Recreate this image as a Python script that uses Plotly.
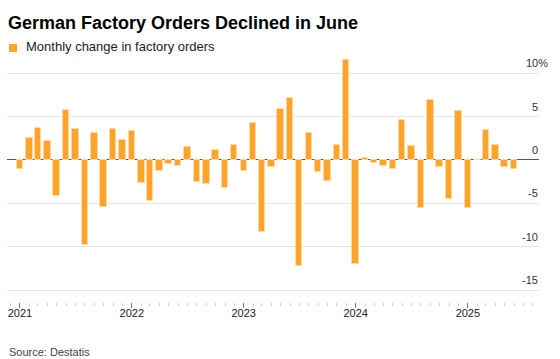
import pandas as pd
import plotly.graph_objects as go

TITLE = "German Factory Orders Declined in June"
SERIES_NAME = "Monthly change in factory orders"
SOURCE = "Source: Destatis"

MONTHS = pd.date_range("2021-01-01", "2025-06-01", freq="MS")
VALUES = [
    -1.0, 2.5, 3.7, 2.2, -4.1, 5.8, 3.55, -9.76, 3.16, -5.36, 3.55, 2.3,
    3.36, -2.6, -4.7, -1.3, -0.46, -0.7, 1.54, -2.55, -2.8, 1.16, -3.28, 1.74,
    -1.23, 4.3, -8.3, -0.85, 5.86, 7.1, -12.2, 3.16, -1.43, -2.47, 1.74, 11.57,
    -12.0, 0.23, -0.39, -0.73, -1.0, 4.55, 1.58, -5.48, 6.94, -0.85, -4.44, 5.67,
    -5.52, 0.0, 3.43, 1.7, -0.81, -1.04,
]
Y_TICKS = [-15, -10, -5, 0, 5, 10]
Y_LABELS = ["-15", "-10", "-5", "0", "5", "10%"]

BAR_COLOR = "#FFA32A"
BAR_EDGE = "#FFD8A0"
FONT = "Liberation Sans, Arial, sans-serif"

W, H = 560, 359
L, R, T, B = 7, 21, 52, 57
PW, PH = W - L - R, H - T - B

fig = go.Figure()
fig.add_trace(go.Bar(
    x=MONTHS, y=VALUES, name=SERIES_NAME,
    width=21 * 24 * 3600 * 1000,
    marker=dict(color=BAR_COLOR, line=dict(color=BAR_EDGE, width=1)),
    showlegend=False,
))

def px_x(p):
    return (p - L) / PW

def px_y(p):
    return (H - B - p) / PH

annotations = []
for v, lab in zip(Y_TICKS, Y_LABELS):
    annotations.append(dict(
        text=lab, x=1, xref="paper", y=v, yref="y", xanchor="right", yanchor="bottom",
        xshift=10 if lab.endswith("%") else 0,
        yshift=3, showarrow=False, font=dict(family=FONT, size=11, color="#333333"),
        borderpad=0,
    ))
annotations.append(dict(
    text=SERIES_NAME, x=px_x(25), xref="paper", y=px_y(47), yref="paper",
    xanchor="left", yanchor="middle", showarrow=False, borderpad=0,
    font=dict(family=FONT, size=13, color="#222222"),
))
annotations.append(dict(
    text=SOURCE, x=px_x(8), xref="paper", y=px_y(352), yref="paper",
    xanchor="left", yanchor="middle", showarrow=False, borderpad=0,
    font=dict(family=FONT, size=11, color="#444444"),
))

fig.update_layout(
    width=W, height=H,
    margin=dict(l=L, r=R, t=T, b=B, pad=0),
    paper_bgcolor="white", plot_bgcolor="white",
    font=dict(family=FONT, size=11, color="#333333"),
    title=dict(
        text="<b>" + TITLE + "</b>", x=8 / W, xref="container", xanchor="left",
        y=1 - 23 / H, yref="container", yanchor="middle",
        font=dict(family=FONT, size=18, color="#000000"),
    ),
    bargap=0,
    showlegend=False,
    shapes=[dict(
        type="rect", xref="paper", yref="paper",
        x0=px_x(9), x1=px_x(17), y0=px_y(52), y1=px_y(44),
        fillcolor=BAR_COLOR, line=dict(width=0),
    )],
    annotations=annotations,
)

fig.update_xaxes(
    type="date",
    range=["2020-11-20", "2025-08-21"],
    tick0="2021-01-01", dtick="M12", tickformat="%Y",
    ticks="outside", ticklen=5, tickcolor="#777777", tickwidth=1,
    ticklabelstandoff=-4,
    minor=dict(dtick="M1", ticks="outside", ticklen=3, tickcolor="#cccccc", tickwidth=1, showgrid=False),
    showgrid=False, showline=False, zeroline=False,
    tickfont=dict(family=FONT, size=11, color="#222222"),
    fixedrange=True,
)
fig.update_yaxes(
    range=[-16.36, 12.44],
    tickvals=Y_TICKS, showticklabels=False,
    showgrid=True, gridcolor="#e3e3e3", gridwidth=1,
    zeroline=True, zerolinecolor="#555555", zerolinewidth=1,
    showline=False, ticks="",
    fixedrange=True,
)

fig.write_html(
    "out.html",
    config={"displayModeBar": False},
    post_script="document.body.style.margin='0';document.body.style.overflow='hidden';",
)
